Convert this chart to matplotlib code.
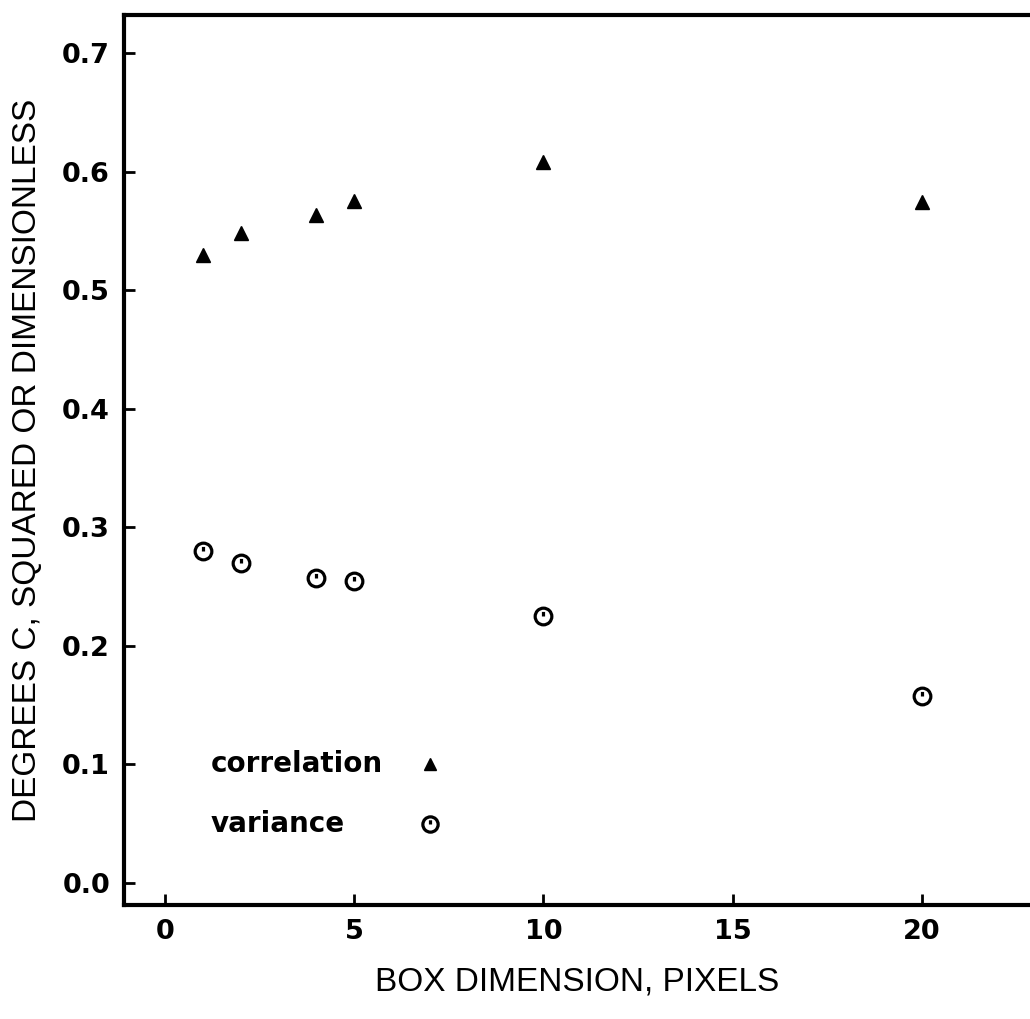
import matplotlib
matplotlib.use("Agg")
import matplotlib.pyplot as plt
from matplotlib.path import Path

# box dimension (pixels)
box = [1, 2, 4, 5, 10, 20]
correlation = [0.530, 0.548, 0.563, 0.575, 0.608, 0.574]
variance = [0.280, 0.270, 0.257, 0.255, 0.225, 0.158]

xticks = [0, 5, 10, 15, 20]
yticks = [0.0, 0.1, 0.2, 0.3, 0.4, 0.5, 0.6, 0.7]

# open circle with a little tick inside, like the original symbol
circ = Path.make_compound_path(Path.unit_circle(),
                               Path([(0, 0), (0, 0.55)], [Path.MOVETO, Path.LINETO]))

fig = plt.figure(figsize=(10.30, 10.19), dpi=100)
ax = fig.add_axes([0.1204, 0.1119, 0.8796, 0.8734])

ax.plot(box, correlation, linestyle="none", marker="^", ms=10,
        color="black")
ax.plot(box, variance, linestyle="none", marker=circ, ms=12,
        mfc="none", mec="black", mew=2.3)

# legend drawn by hand, as in the original
ax.text(1.2, 0.1, "correlation", fontsize=20, fontweight="bold", va="center")
ax.plot(7, 0.1, linestyle="none", marker="^", ms=9, color="black")
ax.text(1.2, 0.05, "variance", fontsize=20, fontweight="bold", va="center")
ax.plot(7, 0.05, linestyle="none", marker=circ, ms=11, mfc="none",
        mec="black", mew=2.3)

ax.set_xlim(-1.08, 22.85)
ax.set_ylim(-0.0185, 0.732)
ax.set_xticks(xticks)
ax.set_yticks(yticks)
ax.set_xticklabels([str(t) for t in xticks])
ax.set_yticklabels(["%.1f" % t for t in yticks])

for s in ["left", "bottom", "top"]:
    ax.spines[s].set_linewidth(3)
ax.spines["right"].set_visible(False)

ax.tick_params(direction="in", length=8, width=2, labelsize=19.5, pad=10)
for lab in ax.get_xticklabels() + ax.get_yticklabels():
    lab.set_fontweight("bold")

ax.set_xlabel("BOX DIMENSION, PIXELS", fontsize=24, family="Liberation Sans")
ax.set_ylabel("DEGREES C, SQUARED OR DIMENSIONLESS", fontsize=24,
              family="Liberation Sans", labelpad=14)
ax.xaxis.label.set_va("center")
ax.xaxis.set_label_coords(0.5, -0.087)

fig.savefig("out.png", dpi=100)
